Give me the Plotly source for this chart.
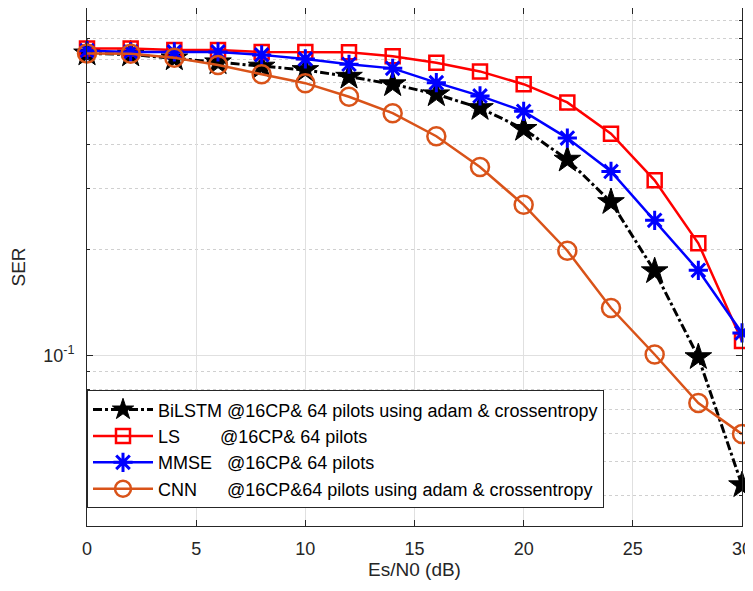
import plotly.graph_objects as go

snr = [0, 2, 4, 6, 8, 10, 12, 14, 16, 18, 20, 22, 24, 26, 28, 30]

ser_bilstm = [0.727, 0.722, 0.704, 0.686, 0.667, 0.652, 0.624, 0.594, 0.556, 0.508,
              0.443, 0.362, 0.274, 0.174, 0.099, 0.0427]
ser_ls = [0.751, 0.751, 0.743, 0.743, 0.734, 0.734, 0.732, 0.714, 0.684, 0.646,
          0.594, 0.527, 0.429, 0.316, 0.209, 0.110]
ser_mmse = [0.740, 0.734, 0.734, 0.734, 0.720, 0.701, 0.677, 0.659, 0.600, 0.550,
            0.497, 0.417, 0.335, 0.243, 0.175, 0.116]
ser_cnn = [0.727, 0.725, 0.707, 0.674, 0.634, 0.598, 0.547, 0.491, 0.422, 0.345,
           0.269, 0.199, 0.1366, 0.1007, 0.0732, 0.0597]

names = [
    "BiLSTM @16CP& 64 pilots using adam & crossentropy",
    "LS\u00a0\u00a0\u00a0\u00a0\u00a0\u00a0\u00a0\u00a0@16CP& 64 pilots",
    "MMSE\u00a0\u00a0\u00a0@16CP& 64 pilots",
    "CNN\u00a0\u00a0\u00a0\u00a0\u00a0\u00a0@16CP&64 pilots using adam & crossentropy",
]

ytick_vals = [0.1]
ytick_text = ["10<sup>-1</sup>"]
yminor_vals = [0.04, 0.05, 0.06, 0.07, 0.08, 0.09, 0.2, 0.3, 0.4, 0.5, 0.6, 0.7, 0.8, 0.9]
xtick_vals = [0, 5, 10, 15, 20, 25, 30]

FONT = "Arial, Liberation Sans, sans-serif"

fig = go.Figure()
fig.add_trace(go.Scatter(
    x=snr, y=ser_bilstm, name=names[0], mode="lines+markers", cliponaxis=False,
    line=dict(color="black", width=3, dash="dashdot"),
    marker=dict(symbol="star", size=20, color="black", line=dict(color="black", width=1))))
fig.add_trace(go.Scatter(
    x=snr, y=ser_ls, name=names[1], mode="lines+markers", cliponaxis=False,
    line=dict(color="#ff0000", width=2.5),
    marker=dict(symbol="square-open", size=14, color="#ff0000", line=dict(color="#ff0000", width=2.5))))
fig.add_trace(go.Scatter(
    x=snr, y=ser_mmse, name=names[2], mode="lines+markers", cliponaxis=False,
    line=dict(color="#0000ff", width=2.5),
    marker=dict(symbol="asterisk-open", size=16, color="#0000ff", line=dict(color="#0000ff", width=3))))
fig.add_trace(go.Scatter(
    x=snr, y=ser_cnn, name=names[3], mode="lines+markers", cliponaxis=False,
    line=dict(color="#D95319", width=2.5),
    marker=dict(symbol="circle-open", size=18, color="#D95319", line=dict(color="#D95319", width=2.5))))

tick_font = dict(family=FONT, size=18, color="#262626")

fig.update_layout(
    width=745, height=583,
    margin=dict(l=79, r=11, t=0, b=65),
    paper_bgcolor="white", plot_bgcolor="white",
    font=dict(family=FONT, size=18, color="#262626"),
    showlegend=True,
    legend=dict(
        x=0, y=0.262, xanchor="left", yanchor="top",
        bgcolor="white", bordercolor="#262626", borderwidth=1,
        font=dict(family=FONT, size=18, color="#000000"),
        tracegroupgap=0, itemwidth=60,
    ),
    xaxis=dict(
        range=[0, 30], tickvals=xtick_vals, ticks="inside", ticklen=6,
        tickcolor="#262626", showline=True, linecolor="#262626", linewidth=1,
        mirror="ticks", showgrid=True, gridcolor="#e0e0e0", gridwidth=1,
        zeroline=False, tickfont=tick_font, automargin=False, ticklabelstandoff=6,
        title=dict(text="Es/N0 (dB)", font=dict(family=FONT, size=19, color="#262626"), standoff=0),
    ),
    yaxis=dict(
        type="log", range=[-1.486, -0.009],
        tickvals=ytick_vals, ticktext=ytick_text, ticks="inside", ticklen=6,
        tickcolor="#262626", showline=True, linecolor="#262626", linewidth=1,
        mirror="ticks", showgrid=True, gridcolor="#e0e0e0", gridwidth=1,
        zeroline=False, tickfont=tick_font, automargin=False, ticklabelstandoff=8,
        minor=dict(tickvals=yminor_vals, ticks="inside", ticklen=3, tickcolor="#262626",
                   showgrid=True, gridcolor="#d0d0d0", griddash="dot", gridwidth=1),
        title=dict(text="SER", font=dict(family=FONT, size=19, color="#262626"), standoff=12),
    ),
)

fig.write_html("out.html")
